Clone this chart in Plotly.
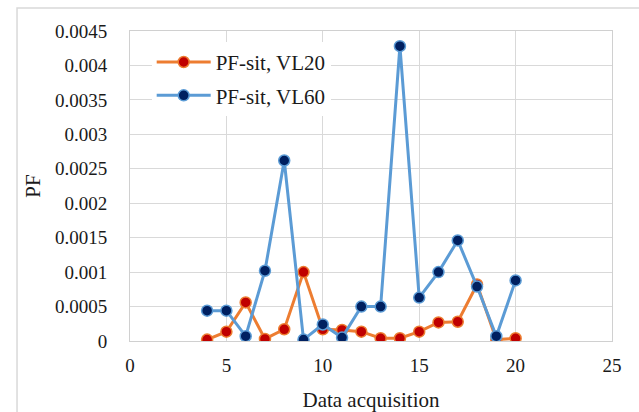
import plotly.graph_objects as go

# Data acquisition index
acq = [4, 5, 6, 7, 8, 9, 10, 11, 12, 13, 14, 15, 16, 17, 18, 19, 20]

# PF values for the sitting posture
pf_vl20 = [0.00002, 0.000135, 0.00056, 0.00003, 0.00017, 0.001, 0.00017, 0.00016,
           0.000135, 0.00004, 0.00004, 0.000135, 0.00027, 0.00028, 0.00082, 0.00002, 0.00004]
pf_vl60 = [0.00044, 0.00044, 0.00007, 0.00102, 0.00262, 0.00002, 0.00024, 0.00005,
           0.0005, 0.0005, 0.00428, 0.00063, 0.001, 0.00146, 0.00079, 0.00007, 0.00088]

y_ticks = [0, 0.0005, 0.001, 0.0015, 0.002, 0.0025, 0.003, 0.0035, 0.004, 0.0045]
y_labels = ["0", "0.0005", "0.001", "0.0015", "0.002", "0.0025", "0.003", "0.0035", "0.004", "0.0045"]
x_ticks = [0, 5, 10, 15, 20, 25]

FONT = "Liberation Serif"
TICK = dict(family=FONT, size=19, color="#1a1a1a")
TITLE = dict(family=FONT, size=21, color="#1a1a1a")

fig = go.Figure()
fig.add_trace(go.Scatter(
    x=acq, y=pf_vl20, name="PF-sit, VL20", mode="lines+markers", legendgroup="a",
    line=dict(color="#ED7D31", width=3),
    marker=dict(size=11, color="#C00000", line=dict(color="#ED7D31", width=1.5)),
))
fig.add_trace(go.Scatter(
    x=acq, y=pf_vl60, name="PF-sit, VL60", mode="lines+markers", legendgroup="b",
    line=dict(color="#5B9BD5", width=3),
    marker=dict(size=11, color="#002060", line=dict(color="#5B9BD5", width=1.5)),
))

fig.update_layout(
    width=639, height=412,
    margin=dict(l=130, r=27, t=31, b=71),
    paper_bgcolor="white", plot_bgcolor="white",
    font=TICK,
    showlegend=True,
    legend=dict(x=0.045, y=0.965, xanchor="left", yanchor="top",
                bgcolor="rgba(255,255,255,1)", font=dict(family=FONT, size=21, color="#1a1a1a"),
                tracegroupgap=3, itemwidth=54),
    xaxis=dict(range=[0, 25], tickvals=x_ticks, showgrid=True, gridcolor="#d9d9d9",
               gridwidth=1, zeroline=False, showline=True, linecolor="#d0d0d0",
               mirror=True, ticks="", ticklabelstandoff=7, tickfont=TICK, automargin=False,
               title=dict(text="Data acquisition", standoff=17, font=TITLE)),
    yaxis=dict(range=[0, 0.0045], tickvals=y_ticks, ticktext=y_labels, showgrid=True,
               gridcolor="#d9d9d9", gridwidth=1, zeroline=False, showline=True,
               linecolor="#d0d0d0", mirror=True, ticks="", ticklabelstandoff=18,
               automargin=False,
               tickfont=TICK, title=dict(text="PF", standoff=8, font=TITLE)),
    shapes=[dict(type="rect", xref="paper", yref="paper",
                 x0=-0.2344, x1=1.3, y0=-0.5, y1=1.074,
                 line=dict(color="#d9d9d9", width=1.5), fillcolor="rgba(0,0,0,0)",
                 layer="below")],
)

fig.write_html("out.html")
